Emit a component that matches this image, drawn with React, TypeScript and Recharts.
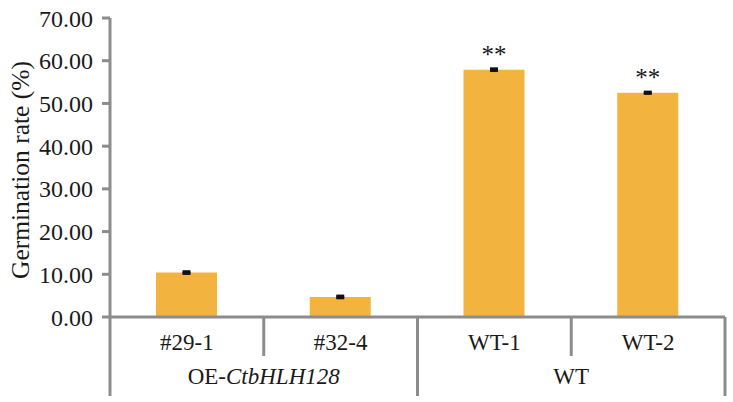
import React from 'react';
import { BarChart, Bar, XAxis, YAxis, ErrorBar, LabelList } from 'recharts';

const categories = ['#29-1', '#32-4', 'WT-1', 'WT-2'];
const values = [10.4, 4.7, 57.9, 52.5];
const errors = [0.2, 0.2, 0.2, 0.15];
const marks = ['', '', '**', '**'];
const groupPrefix = ['OE-', 'WT'];
const groupItalic = ['CtbHLH128', ''];
const groupOf = [0, 0, 1, 1];
const yTicks = [0, 10, 20, 30, 40, 50, 60, 70];

const W = 733;
const H = 402;
const LEFT = 110;
const RIGHT = 8;
const TOP = 18;
const XAXIS_H = 85;
const PLOT_BOTTOM = H - XAXIS_H;
const BAND = (W - LEFT - RIGHT) / categories.length;
const GRAY = '#8c8c8c';
const FONT = 'Liberation Serif, Times New Roman, serif';
const INK = '#1a1a1a';
const FS = 23;

const data = categories.map((name, i) => ({
  name,
  value: values[i],
  err: errors[i],
  mark: marks[i],
}));

const CategoryTick = (props: any) => {
  const { x, payload } = props;
  const i = payload.index;
  const g = groupOf[i];
  const lastInGroup = i === categories.length - 1 || groupOf[i + 1] !== g;
  const firstInGroup = i === 0 || groupOf[i - 1] !== g;
  const span = groupOf.filter((v) => v === g).length;
  const rightX = x + BAND / 2;
  return (
    <g>
      <text x={x} y={342} textAnchor="middle" dominantBaseline="central" fontSize={FS} fontFamily={FONT} fill={INK}>
        {payload.value}
      </text>
      {i === 0 && (
        <line x1={x - BAND / 2} x2={x - BAND / 2} y1={PLOT_BOTTOM} y2={396} stroke={GRAY} strokeWidth={3} />
      )}
      <line x1={rightX} x2={rightX} y1={PLOT_BOTTOM} y2={lastInGroup ? 396 : 356} stroke={GRAY} strokeWidth={3} />
      {firstInGroup && (
        <text x={x + ((span - 1) * BAND) / 2} y={376} textAnchor="middle" dominantBaseline="central" fontSize={FS} fontFamily={FONT} fill={INK}>
          {groupPrefix[g]}
          {groupItalic[g] && <tspan fontStyle="italic">{groupItalic[g]}</tspan>}
        </text>
      )}
    </g>
  );
};

const MarkLabel = (props: any) => {
  const { x, y, width, value } = props;
  if (!value) return null;
  return (
    <text x={x + width / 2} y={y - 7} textAnchor="middle" fontSize={25} fontFamily={FONT} fill={INK}>
      {value}
    </text>
  );
};

const App: React.FC = () => {
  return (
    <div style={{ position: 'absolute', left: 0, top: 0, background: '#fff', fontFamily: FONT }}>
      <BarChart width={W} height={H} data={data} margin={{ top: TOP, right: RIGHT, left: 0, bottom: 0 }}>
        <XAxis
          dataKey="name"
          height={XAXIS_H}
          interval={0}
          tickLine={false}
          axisLine={{ stroke: GRAY, strokeWidth: 3 }}
          tick={<CategoryTick />}
        />
        <YAxis
          width={LEFT}
          domain={[0, 70]}
          ticks={yTicks}
          interval={0}
          tickFormatter={(v: number) => v.toFixed(2)}
          tickSize={8}
          tickMargin={9}
          tickLine={{ stroke: GRAY, strokeWidth: 3 }}
          axisLine={{ stroke: GRAY, strokeWidth: 3 }}
          tick={{ fontSize: 24, fontFamily: FONT, fill: INK }}
          label={() => (
            <text
              x={0}
              y={0}
              transform="translate(20, 170) rotate(-90)"
              textAnchor="middle"
              dominantBaseline="central"
              fontSize={25.5}
              fontFamily={FONT}
              fill={INK}
            >
              Germination rate (%)
            </text>
          )}
        />
        <Bar dataKey="value" fill="#f3b43f" barSize={61} isAnimationActive={false}>
          <ErrorBar dataKey="err" width={4} strokeWidth={3} stroke="#111" isAnimationActive={false} />
          <LabelList dataKey="mark" content={<MarkLabel />} />
        </Bar>
      </BarChart>
    </div>
  );
};

export default App;
